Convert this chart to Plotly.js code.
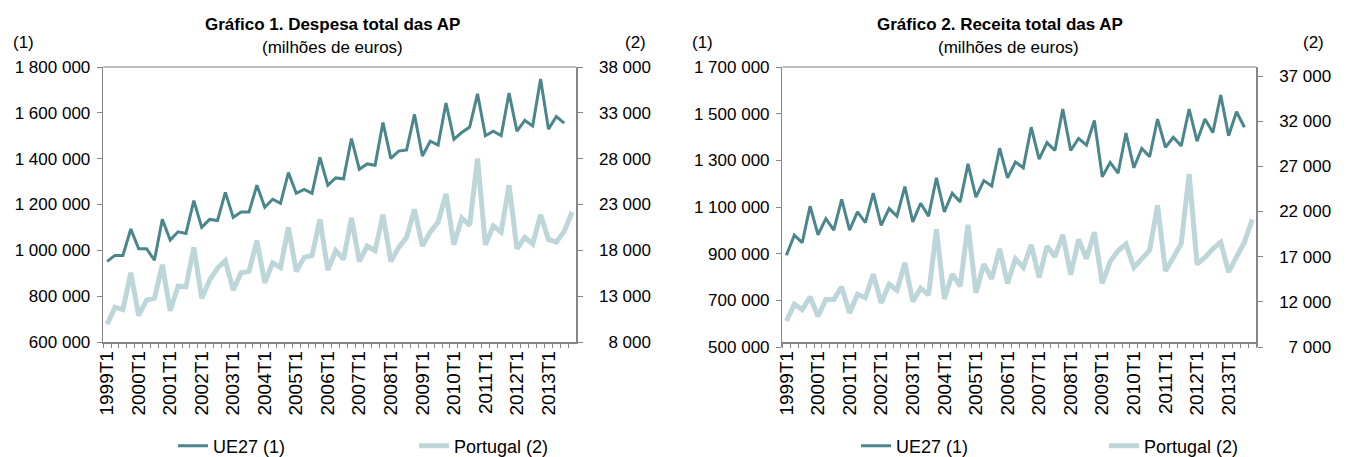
<!DOCTYPE html>
<html>
<head>
<meta charset="utf-8">
<script src="https://cdn.plot.ly/plotly-3.0.1.min.js"></script>
<style>html,body{margin:0;padding:0;background:#fff;overflow:hidden;}#chart{width:1352px;height:475px;}</style>
</head>
<body>
<div id="chart"></div>
<script>
// ---- data ----
const years = ['1999','2000','2001','2002','2003','2004','2005','2006','2007','2008','2009','2010','2011','2012','2013'];
const quarterNames = ['T1','T2','T3','T4'];
const categories = [];
years.forEach(y => quarterNames.forEach(q => categories.push(y + q)));
const xTickLabels = categories.map(c => c.endsWith('T1') ? c : '');

const despesaUE27 = [952000, 978000, 978000, 1093000, 1007000, 1007000, 957000, 1135000, 1045000, 1081000,
  1074000, 1217000, 1100000, 1135000, 1130000, 1253000, 1144000, 1167000, 1167000, 1284000,
  1188000, 1223000, 1205000, 1339000, 1249000, 1266000, 1249000, 1406000, 1284000, 1316000,
  1312000, 1488000, 1354000, 1377000, 1371000, 1558000, 1401000, 1433000, 1438000, 1593000,
  1412000, 1476000, 1459000, 1643000, 1485000, 1514000, 1538000, 1683000, 1500000, 1520000,
  1500000, 1686000, 1520000, 1567000, 1543000, 1748000, 1529000, 1584000, 1555000];
const despesaPT = [9940, 11800, 11540, 15550, 10890, 12560, 12780, 16430, 11400, 14090,
  14020, 18320, 12780, 14750, 16060, 16860, 13660, 15550, 15700, 19050,
  14460, 16640, 16130, 20510, 15700, 17230, 17440, 21380, 15840, 17960,
  17010, 21530, 16790, 18470, 17960, 21890, 16790, 18320, 19410, 22470,
  18470, 20000, 21090, 24150, 18610, 21530, 20730, 28010, 18610, 20650,
  20000, 25100, 18170, 19410, 18690, 21890, 19190, 18900, 20070, 22180];
const receitaUE27 = [893000, 979000, 947000, 1104000, 981000, 1050000, 1001000, 1133000, 1001000, 1079000,
  1033000, 1159000, 1021000, 1093000, 1061000, 1187000, 1036000, 1116000, 1061000, 1225000,
  1079000, 1159000, 1122000, 1285000, 1142000, 1213000, 1190000, 1352000, 1225000, 1293000,
  1268000, 1442000, 1305000, 1376000, 1342000, 1520000, 1342000, 1394000, 1365000, 1471000,
  1230000, 1291000, 1245000, 1417000, 1268000, 1351000, 1316000, 1477000, 1356000, 1399000,
  1362000, 1520000, 1382000, 1477000, 1419000, 1580000, 1405000, 1508000, 1442000];
const receitaPT = [9880, 11730, 11140, 12550, 10400, 12250, 12250, 13660, 10770, 12840,
  12470, 15060, 11880, 13950, 13290, 16320, 12030, 13510, 12770, 20020,
  12320, 15060, 13730, 20540, 12990, 16170, 14550, 17870, 14030, 16760,
  15800, 18320, 14690, 18170, 16990, 19430, 14990, 18910, 16760, 19720,
  14030, 16470, 17650, 18390, 15800, 16760, 17730, 22680, 15430, 16910,
  18470, 26160, 16170, 16910, 17870, 18610, 15280, 16990, 18610, 21130];

const desLeftTicks = [600000, 800000, 1000000, 1200000, 1400000, 1600000, 1800000];
const desLeftText = ['600 000', '800 000', '1 000 000', '1 200 000', '1 400 000', '1 600 000', '1 800 000'];
const desRightTicks = [8000, 13000, 18000, 23000, 28000, 33000, 38000];
const desRightText = ['8 000', '13 000', '18 000', '23 000', '28 000', '33 000', '38 000'];
const recLeftTicks = [500000, 700000, 900000, 1100000, 1300000, 1500000, 1700000];
const recLeftText = ['500 000', '700 000', '900 000', '1 100 000', '1 300 000', '1 500 000', '1 700 000'];
const recRightTicks = [7000, 12000, 17000, 22000, 27000, 32000, 37000];
const recRightText = ['7 000', '12 000', '17 000', '22 000', '27 000', '32 000', '37 000'];

const titles = ['Gráfico 1. Despesa total das AP', 'Gráfico 2. Receita total das AP'];
const subtitle = '(milhões de euros)';
const seriesNames = ['UE27 (1)', 'Portugal (2)'];

// ---- styles ----
const W = 1352, PH = 475;   // paper a little taller than the 457px window so the legend needs no margin
const dark = '#4a868b', light = '#bdd6d9';
const axisCol = '#868686';
const FONT = '"Liberation Sans", Arial, sans-serif';
const px = v => v / W, py = v => 1 - v / PH;
// right-align right-axis labels (figure space = one digit width)
const padRight = arr => { const n = Math.max(...arr.map(s => s.length)); return arr.map(s => '\u2007'.repeat(n - s.length) + s); };

const traces = [
  {x: categories.slice(0, despesaUE27.length), y: despesaUE27, xaxis: 'x', yaxis: 'y', name: seriesNames[0],
   type: 'scatter', mode: 'lines', line: {color: dark, width: 3}, legend: 'legend'},
  {x: categories.slice(0, despesaPT.length), y: despesaPT, xaxis: 'x', yaxis: 'y2', name: seriesNames[1],
   type: 'scatter', mode: 'lines', line: {color: light, width: 5}, legend: 'legend'},
  {x: categories.slice(0, receitaUE27.length), y: receitaUE27, xaxis: 'x2', yaxis: 'y3', name: seriesNames[0],
   type: 'scatter', mode: 'lines', line: {color: dark, width: 3}, legend: 'legend2'},
  {x: categories.slice(0, receitaPT.length), y: receitaPT, xaxis: 'x2', yaxis: 'y4', name: seriesNames[1],
   type: 'scatter', mode: 'lines', line: {color: light, width: 5}, legend: 'legend2'}
];

const yTickFont = {family: FONT, size: 17, color: '#000'};
const xTickFont = {family: FONT, size: 19, color: '#000'};
function xAxis(domain) {
  return {
    domain: domain, type: 'category', categoryorder: 'array', categoryarray: categories,
    range: [-0.5, categories.length - 0.5],
    tickmode: 'array', tickvals: categories, ticktext: xTickLabels, tickson: 'boundaries',
    ticks: 'outside', ticklen: 4, tickcolor: axisCol, tickwidth: 1, tickangle: -90,
    showline: true, linecolor: axisCol, linewidth: 1.5, showgrid: false, zeroline: false,
    tickfont: xTickFont, fixedrange: true
  };
}
function yAxis(domain, anchor, range, vals, text, side, overlay, standoff) {
  const a = {
    domain: domain, anchor: anchor, range: range, tickmode: 'array', tickvals: vals, ticktext: text,
    ticks: 'outside', ticklen: 5, tickcolor: axisCol, tickwidth: 1, showline: true, linecolor: axisCol,
    linewidth: 1.5, showgrid: false, zeroline: false, tickfont: yTickFont, side: side, fixedrange: true,
    ticklabelstandoff: standoff
  };
  if (overlay) a.overlaying = overlay;
  return a;
}

const xdom1 = [px(105), px(586)], xdom2 = [px(796), px(1278)];
const ydom1 = [py(342), py(67)], ydom2 = [py(347), py(67)];

const titleFont = {family: FONT, size: 17, color: '#000'};
const annFont = {family: FONT, size: 17, color: '#000'};
function ann(text, x, y, font) {
  return {text: text, x: px(x), y: py(y), xref: 'paper', yref: 'paper', xanchor: 'center', yanchor: 'middle',
          showarrow: false, font: font};
}
const annotations = [
  ann('<b>' + titles[0] + '</b>', 338, 25, titleFont),
  ann(subtitle, 338, 47, annFont),
  ann('(1)', 24, 42, annFont),
  ann('(2)', 646, 42, annFont),
  ann('<b>' + titles[1] + '</b>', 1017, 25, titleFont),
  ann(subtitle, 1026, 47, annFont),
  ann('(1)', 715, 42, annFont),
  ann('(2)', 1336, 42, annFont)
];

const shapes = [
  {type: 'line', xref: 'x domain', yref: 'y domain', x0: 0, x1: 1, y0: 1, y1: 1, line: {color: '#a6a6a6', width: 1.5}},
  {type: 'line', xref: 'x2 domain', yref: 'y3 domain', x0: 0, x1: 1, y0: 1, y1: 1, line: {color: '#a6a6a6', width: 1.5}}
];

const legFont = {family: FONT, size: 18, color: '#000'};
const layout = {
  width: W, height: PH, margin: {l: 0, r: 0, t: 0, b: 0},
  paper_bgcolor: '#fff', plot_bgcolor: '#fff',
  font: {family: FONT, color: '#000'},
  xaxis: xAxis(xdom1),
  yaxis: yAxis(ydom1, 'x', [600000, 1800000], desLeftTicks, desLeftText, 'left', null, 3),
  yaxis2: yAxis(ydom1, 'x', [8000, 38000], desRightTicks, padRight(desRightText), 'right', 'y', 13),
  xaxis2: xAxis(xdom2),
  yaxis3: yAxis(ydom2, 'x2', [500000, 1700000], recLeftTicks, recLeftText, 'left', null, 3),
  yaxis4: yAxis(ydom2, 'x2', [7000, 38000], recRightTicks, padRight(recRightText), 'right', 'y3', 13),
  legend: {orientation: 'h', x: px(176), xanchor: 'left', y: py(446), yanchor: 'middle',
           font: legFont, entrywidth: 196, entrywidthmode: 'pixels', bgcolor: 'rgba(0,0,0,0)', itemclick: false},
  legend2: {orientation: 'h', x: px(871), xanchor: 'left', y: py(446), yanchor: 'middle',
            font: legFont, entrywidth: 203, entrywidthmode: 'pixels', bgcolor: 'rgba(0,0,0,0)', itemclick: false},
  showlegend: true,
  annotations: annotations,
  shapes: shapes
};

Plotly.newPlot('chart', traces, layout, {displayModeBar: false, staticPlot: true});
</script>
</body>
</html>
